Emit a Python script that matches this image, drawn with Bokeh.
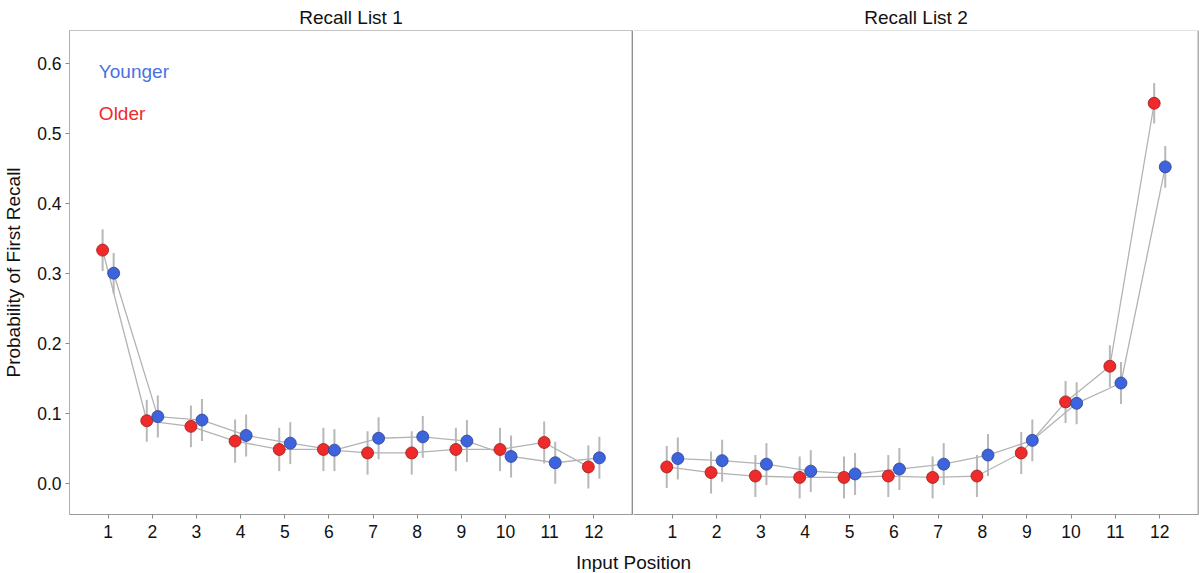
from bokeh.plotting import figure
from bokeh.models import ColumnDataSource, Range1d, FixedTicker, Label, Span, NumeralTickFormatter
from bokeh.layouts import row, column
from bokeh.transform import dodge
from bokeh.embed import file_html
from bokeh.resources import INLINE

# ---------------- data ----------------
positions = [1, 2, 3, 4, 5, 6, 7, 8, 9, 10, 11, 12]
panel_titles = ["Recall List 1", "Recall List 2"]

list1_younger = [0.300, 0.095, 0.090, 0.068, 0.057, 0.047, 0.064, 0.066, 0.060, 0.038, 0.029, 0.036]
list1_younger_err = [0.029, 0.030, 0.030, 0.030, 0.030, 0.030, 0.030, 0.030, 0.030, 0.030, 0.030, 0.030]
list1_older = [0.333, 0.089, 0.081, 0.060, 0.048, 0.048, 0.043, 0.043, 0.048, 0.048, 0.058, 0.023]
list1_older_err = [0.030, 0.030, 0.030, 0.031, 0.031, 0.031, 0.031, 0.031, 0.031, 0.031, 0.030, 0.031]

list2_younger = [0.035, 0.032, 0.027, 0.017, 0.013, 0.020, 0.027, 0.040, 0.061, 0.114, 0.143, 0.452]
list2_younger_err = [0.030, 0.030, 0.030, 0.030, 0.030, 0.030, 0.030, 0.030, 0.030, 0.030, 0.030, 0.030]
list2_older = [0.023, 0.015, 0.010, 0.008, 0.008, 0.010, 0.008, 0.010, 0.043, 0.116, 0.167, 0.543]
list2_older_err = [0.030, 0.030, 0.030, 0.030, 0.030, 0.030, 0.030, 0.030, 0.030, 0.030, 0.030, 0.029]

y_ticks = [0.0, 0.1, 0.2, 0.3, 0.4, 0.5, 0.6]
group_names = ["Younger", "Older"]

# ---------------- style ----------------
FONT = "Liberation Sans"
BLUE = "#3d63dd"
BLUE_EDGE = "#2b428f"
RED = "#ee2a2a"
RED_EDGE = "#9c1b1b"
LINE_GRAY = "#b3b3b3"
ERR_GRAY = "#b8b8b8"
FRAME_GRAY = "#c4c4c4"
DARK = "#5a5a5a"
DODGE = 0.125
LEFT_BORDER = 67
FRAME_W = 565
TOP_BORDER = 30
FRAME_H = 484
BOTTOM_BORDER = 33
XMIN, XMAX = 0.125, 12.875
YMIN, YMAX = -0.045, 0.647


def make_source(vals, errs):
    return ColumnDataSource(dict(
        x=positions,
        y=vals,
        lo=[v - e for v, e in zip(vals, errs)],
        hi=[v + e for v, e in zip(vals, errs)],
    ))


def panel(title, younger, younger_err, older, older_err, first):
    p = figure(
        width=(LEFT_BORDER + FRAME_W + 1) if first else (FRAME_W + 1),
        height=TOP_BORDER + FRAME_H + BOTTOM_BORDER,
        x_range=Range1d(XMIN, XMAX),
        y_range=Range1d(YMIN, YMAX),
        output_backend="svg",
        toolbar_location=None,
        y_axis_location="left" if first else None,
        min_border_left=LEFT_BORDER if first else 0,
        min_border_right=1,
        min_border_top=TOP_BORDER,
        min_border_bottom=BOTTOM_BORDER,
        title=title,
    )
    p.title.align = "center"
    p.title.text_font = FONT
    p.title.text_font_size = "19px"
    p.title.text_font_style = "normal"
    p.title.text_color = "#111111"
    p.title.standoff = 6

    p.xgrid.visible = False
    p.ygrid.visible = False
    p.background_fill_color = "white"
    p.border_fill_color = "white"

    if first:
        p.outline_line_color = FRAME_GRAY
        p.outline_line_width = 1
    else:
        p.outline_line_color = None
        p.add_layout(Span(location=YMAX, dimension="width", line_color=FRAME_GRAY, line_width=1))
        p.add_layout(Span(location=XMAX, dimension="height", line_color=DARK, line_width=1.5))

    # x axis
    p.xaxis.ticker = FixedTicker(ticks=positions)
    p.xaxis.major_label_text_font = FONT
    p.xaxis.major_label_text_font_size = "17.5px"
    p.xaxis.major_label_text_color = "#111111"
    p.xaxis.axis_line_color = "#9a9a9a"
    p.xaxis.major_tick_line_color = "#8a8a8a"
    p.xaxis.major_tick_out = 4
    p.xaxis.major_tick_in = 0
    p.xaxis.minor_tick_line_color = None
    p.xaxis.major_label_standoff = 6

    if first:
        p.yaxis.ticker = FixedTicker(ticks=y_ticks)
        p.yaxis.formatter = NumeralTickFormatter(format="0.0")
        p.yaxis.major_label_text_font = FONT
        p.yaxis.major_label_text_font_size = "17.5px"
        p.yaxis.major_label_text_color = "#111111"
        p.yaxis.axis_line_color = "#b0b0b0"
        p.yaxis.major_tick_line_color = "#8a8a8a"
        p.yaxis.major_tick_out = 4
        p.yaxis.major_tick_in = 0
        p.yaxis.minor_tick_line_color = None
        p.yaxis.major_label_standoff = 4
        p.yaxis.axis_label = "Probability of First Recall"
        p.yaxis.axis_label_text_font = FONT
        p.yaxis.axis_label_text_font_size = "19px"
        p.yaxis.axis_label_text_font_style = "normal"
        p.yaxis.axis_label_text_color = "#111111"
        p.yaxis.axis_label_standoff = 10
        # divider between the two panels
        p.add_layout(Span(location=XMAX, dimension="height", line_color=DARK, line_width=1.5))

    ys = make_source(younger, younger_err)
    os_ = make_source(older, older_err)

    for src, off in ((os_, -DODGE), (ys, DODGE)):
        p.segment(x0=dodge("x", off), y0="lo", x1=dodge("x", off), y1="hi",
                  source=src, line_color=ERR_GRAY, line_width=2)
    for src, off in ((os_, -DODGE), (ys, DODGE)):
        p.line(x=dodge("x", off), y="y", source=src, line_color=LINE_GRAY, line_width=1.3)
    for src, off, fill, edge in ((os_, -DODGE, RED, RED_EDGE), (ys, DODGE, BLUE, BLUE_EDGE)):
        p.scatter(x=dodge("x", off), y="y", source=src, size=12,
                  fill_color=fill, line_color=edge, line_width=0.8)

    if first:
        p.add_layout(Label(x=0.79, y=0.588, text=group_names[0], text_color="#4a70e6",
                           text_font=FONT, text_font_size="19px",
                           text_baseline="middle", text_align="left"))
        p.add_layout(Label(x=0.79, y=0.528, text=group_names[1], text_color="#ee2a2a",
                           text_font=FONT, text_font_size="19px",
                           text_baseline="middle", text_align="left"))
    return p


p1 = panel(panel_titles[0], list1_younger, list1_younger_err, list1_older, list1_older_err, True)
p2 = panel(panel_titles[1], list2_younger, list2_younger_err, list2_older, list2_older_err, False)

total_w = p1.width + p2.width
xl = figure(width=total_w, height=25, x_range=Range1d(0, total_w), y_range=Range1d(0, 1),
            output_backend="svg", toolbar_location=None,
            x_axis_location=None, y_axis_location=None,
            min_border_left=0, min_border_right=0, min_border_top=0, min_border_bottom=0)
xl.outline_line_color = None
xl.xgrid.visible = False
xl.ygrid.visible = False
xl.add_layout(Label(x=p1.width, y=0.42, text="Input Position", text_font=FONT,
                    text_font_size="19px", text_color="#111111",
                    text_align="center", text_baseline="middle"))

layout = column(row(p1, p2), xl)

with open("out.html", "w") as f:
    f.write(file_html(layout, INLINE))
